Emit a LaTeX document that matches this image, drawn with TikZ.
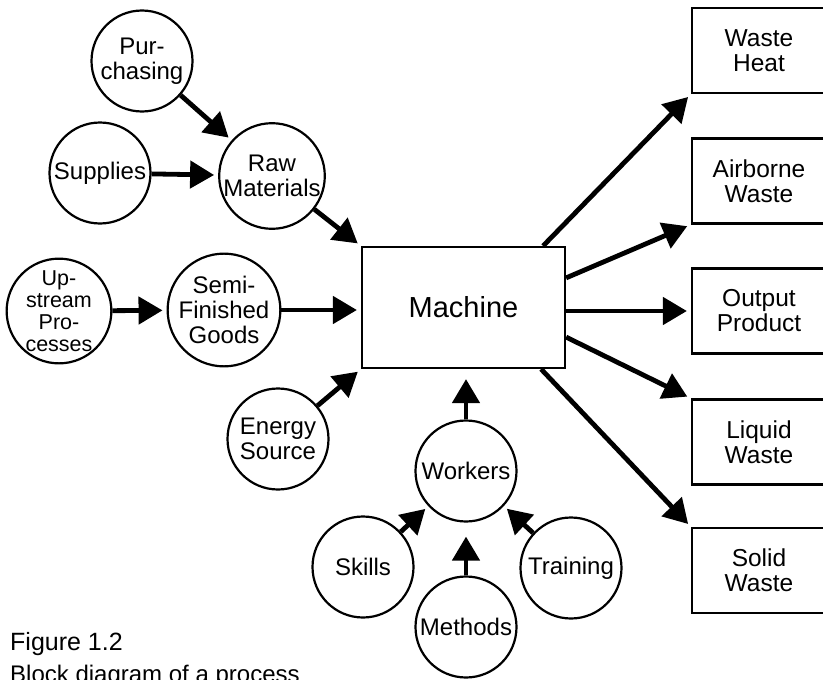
\documentclass[tikz,border=0pt]{standalone}
\usepackage{fontspec}
\setmainfont{Liberation Sans}
\usetikzlibrary{arrows.meta,calc}

\tikzset{
	blob/.style={circle, draw, line width=2.2pt, minimum size=101pt, inner sep=0pt, align=center, font=\fontsize{24}{25}\selectfont},
	outbox/.style={rectangle, draw, line width=2.2pt, minimum width=134pt, minimum height=85pt, inner sep=0pt, align=center, font=\fontsize{24.5}{25}\selectfont},
	flow/.style={line width=4.8pt, -{Triangle[length=24pt,width=27pt]}, shorten >=4pt},
}

\begin{document}
\begin{tikzpicture}[x=1pt,y=-1pt]
			%%%%% START %%%%%
			\useasboundingbox (0,0) rectangle (823,680);
			
			% inputs
			\node[blob] (purch) at (142,61) {Pur-\\chasing};
			\node[blob] (supp) at (100,173) {Supplies};
			\node[blob] (raw) at (272,176) {Raw\\Materials};
			\node[blob, font=\fontsize{21.5}{22}\selectfont] (upstr) at (59,311) {Up-\\stream\\Pro-\\cesses};
			\node[blob] (semi) at (224,310) {Semi-\\Finished\\Goods};
			\node[blob] (energy) at (278,439) {Energy\\Source};
			
			\node[draw, line width=2.2pt, minimum width=203pt, minimum height=121pt, font=\fontsize{29}{30}\selectfont] (machine) at (463.5,307.5) {Machine};
			
			% workers
			\node[blob] (workers) at (466,471) {Workers};
			\node[blob] (skills) at (363,567) {Skills};
			\node[blob] (methods) at (466,627) {Methods};
			\node[blob] (train) at (571,568) {Training};
			
			% outputs
			\node[outbox] (heat) at (759,50.5) {Waste\\Heat};
			\node[outbox] (airb) at (759,181) {Airborne\\Waste};
			\node[outbox] (prod) at (759,311) {Output\\Product};
			\node[outbox] (liquid) at (759,442) {Liquid\\Waste};
			\node[outbox] (solid) at (759,570.5) {Solid\\Waste};
			
			\draw[flow] (purch) -- (raw);
			\draw[flow] (supp) -- (raw);
			\draw[flow] (raw) -- (machine.north west);
			\draw[flow] (upstr) -- (semi);
			\draw[flow] (semi) -- (semi -| machine.west);
			\draw[flow] (energy) -- (machine.south west);
			
			\draw[flow, shorten >=10pt] (workers) -- (workers |- machine.south);
			\draw[flow] (skills) -- (workers);
			\draw[flow, shorten >=14pt] (methods) -- (workers);
			\draw[flow] (train) -- (workers);
			
			\draw[flow] ([xshift=-23pt]machine.north east) -- (heat.south west);
			\draw[flow] ([yshift=-32pt]machine.north east) -- (airb.south west);
			\draw[flow] (machine.east |- prod) -- (prod);
			\draw[flow] ([yshift=32pt]machine.south east) -- (liquid.north west);
			\draw[flow] ([xshift=-25pt]machine.south east) -- (solid.north west);
			
			% caption
			\node[anchor=base west, inner sep=0pt, font=\fontsize{25}{27}\selectfont] (fig) at (10,650) {Figure 1.2};
			\node[anchor=base west, inner sep=0pt, font=\fontsize{24}{26}\selectfont] (cap) at (10,682) {Block diagram of a process};
			
			%%%%% END %%%%%
\end{tikzpicture}
\end{document}
